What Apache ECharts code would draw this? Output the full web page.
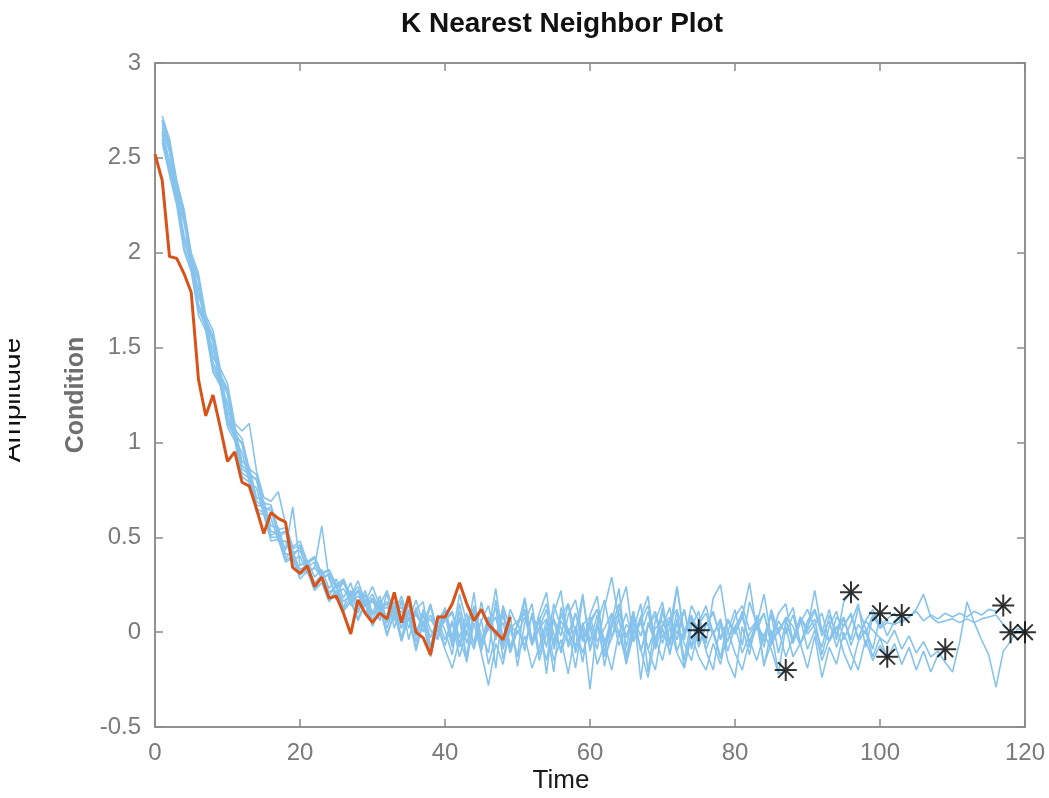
<!DOCTYPE html>
<html>
<head>
<meta charset="utf-8">
<title>K Nearest Neighbor Plot</title>
<script src="https://cdn.jsdelivr.net/npm/echarts@6/dist/echarts.min.js"></script>
<style>
  html, body { margin: 0; padding: 0; background: #fff; }
  #chart { width: 1049px; height: 798px; }
</style>
</head>
<body>
<div id="chart"></div>
<script>
// query trajectory (orange), sampled at t = 0, 1, 2, ...
const queryData = [
  2.52, 2.38, 1.98, 1.97, 1.89, 1.79, 1.33, 1.14, 1.25, 1.08,
  0.90, 0.95, 0.79, 0.77, 0.65, 0.52, 0.63, 0.60, 0.58, 0.34,
  0.31, 0.35, 0.24, 0.29, 0.18, 0.19, 0.10, -0.01, 0.17, 0.10,
  0.05, 0.10, 0.07, 0.21, 0.05, 0.19, 0.00, -0.03, -0.12, 0.08,
  0.08, 0.15, 0.26, 0.15, 0.06, 0.12, 0.04, 0.00, -0.04, 0.08
]

// neighbor trajectories (blue), sampled at t = 1, 2, 3, ... ; last value = end of life
const nn1 = [
  2.70, 2.57, 2.34, 2.20, 1.96, 1.86, 1.63, 1.55, 1.34, 1.25,
  1.03, 1.00, 0.82, 0.81, 0.64, 0.66, 0.50, 0.53, 0.40, 0.45,
  0.32, 0.34, 0.29, 0.30, 0.17, 0.28, 0.14, 0.22, 0.09, 0.18,
  0.06, 0.21, 0.02, 0.17, -0.04, 0.12, 0.16, -0.08, 0.09, 0.01,
  -0.12, 0.15, -0.02, 0.21, -0.10, 0.08, -0.19, 0.14, 0.02, -0.13,
  0.18, -0.06, 0.07, -0.22, 0.10, 0.22, -0.08, 0.03, -0.16, 0.09,
  0.19, -0.11, 0.05, 0.23, -0.13, 0.01, 0.15, -0.21, 0.06, 0.16,
  -0.07, 0.11, -0.15, 0.08, 0.01
]
const nn2 = [
  2.62, 2.46, 2.29, 2.07, 1.94, 1.71, 1.63, 1.40, 1.33, 1.12,
  1.04, 0.86, 0.83, 0.67, 0.66, 0.51, 0.53, 0.39, 0.43, 0.31,
  0.36, 0.24, 0.30, 0.19, 0.25, 0.13, 0.22, 0.10, 0.20, 0.06,
  0.17, 0.02, 0.14, -0.03, 0.12, -0.05, 0.10, -0.11, 0.06, 0.12,
  -0.06, 0.08, -0.16, 0.11, -0.01, -0.11, 0.17, -0.07, 0.09, -0.18,
  0.05, 0.15, -0.12, 0.03, -0.21, 0.13, 0.01, -0.09, 0.19, -0.05,
  0.09, -0.18, 0.03, 0.15, -0.08, 0.11, -0.25, 0.05, -0.05, 0.13,
  -0.12, 0.07, -0.19, 0.03, 0.11, -0.10, -0.20, 0.05, -0.15, -0.24,
  0.03, -0.12, 0.09, -0.18, 0.01, -0.22, -0.20
]
const nn3 = [
  2.72, 2.60, 2.38, 2.23, 2.00, 1.89, 1.67, 1.59, 1.39, 1.31,
  1.10, 1.06, 1.10, 0.85, 0.71, 0.69, 0.74, 0.57, 0.45, 0.48,
  0.37, 0.40, 0.31, 0.33, 0.25, 0.28, 0.19, 0.27, 0.16, 0.24,
  0.14, 0.22, 0.10, 0.19, 0.06, 0.17, 0.04, 0.15, 0.00, 0.13,
  -0.03, 0.20, 0.05, -0.06, 0.16, 0.01, 0.23, -0.04, 0.12, 0.03,
  0.18, -0.05, 0.10, 0.21, -0.07, 0.08, 0.15, 0.00, 0.20, -0.10,
  0.05, 0.17, -0.03, 0.12, 0.24, -0.05, 0.08, 0.19, -0.08, 0.10,
  0.03, 0.24, -0.04, 0.14, 0.06, -0.06, 0.18, 0.25, 0.00, 0.12,
  -0.07, 0.16, 0.04, 0.20, -0.03, 0.10, 0.15, -0.05, 0.08, 0.02,
  0.22, 0.00, 0.12, -0.04, 0.16, 0.21
]
const nn4 = [
  2.64, 2.48, 2.32, 2.09, 1.98, 1.77, 1.67, 1.45, 1.38, 1.16,
  1.09, 0.90, 0.87, 0.71, 0.69, 0.56, 0.55, 0.43, 0.66, 0.35,
  0.38, 0.29, 0.33, 0.23, 0.28, 0.18, 0.26, 0.13, 0.22, 0.10,
  0.19, 0.06, 0.16, 0.02, 0.15, -0.02, 0.12, 0.01, -0.04, 0.09,
  -0.08, 0.07, -0.13, 0.14, -0.09, 0.04, 0.13, -0.14, 0.02, 0.06,
  -0.10, 0.10, 0.00, -0.15, 0.07, -0.02, 0.15, -0.11, 0.03, -0.30,
  0.04, -0.07, 0.09, 0.00, -0.16, 0.07, -0.02, 0.11, -0.09, 0.03,
  0.13, -0.10, 0.01, 0.09, -0.07, 0.05, -0.01, -0.14, 0.07, 0.00,
  0.11, -0.08, 0.03, -0.02, 0.09, -0.11, 0.05, 0.13, -0.06, 0.01,
  0.07, -0.12, 0.03, 0.11, -0.04, 0.05, 0.15, -0.08, 0.08, 0.10
]
const nn5 = [
  2.60, 2.43, 2.27, 2.03, 1.92, 1.70, 1.61, 1.38, 1.32, 1.10,
  1.03, 0.84, 0.81, 0.65, 0.63, 0.50, 0.50, 0.38, 0.40, 0.30,
  0.33, 0.23, 0.28, 0.17, 0.22, 0.12, 0.18, 0.07, 0.16, 0.04,
  0.13, -0.01, 0.10, -0.04, 0.08, -0.10, 0.05, -0.13, 0.03, -0.09,
  -0.19, -0.04, -0.15, 0.05, -0.11, -0.28, -0.06, -0.17, 0.03, -0.13,
  -0.02, -0.19, -0.08, 0.06, -0.15, -0.04, -0.22, 0.01, -0.11, 0.03,
  -0.17, -0.06, -0.20, 0.00, -0.13, 0.05, -0.09, -0.24, -0.03, -0.15,
  0.03, -0.11, -0.19, -0.02, -0.13, -0.20, -0.06, -0.17, 0.01, -0.11,
  -0.20, -0.04, -0.15, -0.01, -0.09, -0.22, 0.03, -0.13, -0.06, -0.19,
  -0.02, -0.24, -0.08, -0.17, 0.00, -0.11, -0.20, -0.04, -0.15, -0.07,
  -0.13
]
const nn6 = [
  2.68, 2.55, 2.32, 2.18, 1.95, 1.85, 1.63, 1.53, 1.34, 1.27,
  1.05, 0.99, 0.84, 0.80, 0.66, 0.64, 0.52, 0.53, 0.42, 0.43,
  0.34, 0.37, 0.28, 0.31, 0.23, 0.26, 0.18, 0.22, 0.14, 0.18,
  0.11, 0.15, 0.06, 0.16, 0.02, 0.13, 0.00, 0.14, -0.03, 0.12,
  -0.04, 0.11, -0.06, 0.10, -0.09, 0.08, -0.02, 0.13, -0.10, 0.05,
  0.12, -0.05, 0.08, -0.08, 0.15, 0.02, -0.06, 0.10, -0.04, 0.05,
  -0.09, 0.13, 0.29, 0.06, -0.03, 0.11, -0.10, 0.03, 0.09, -0.06,
  0.07, -0.04, 0.12, -0.09, 0.05, 0.14, -0.01, 0.07, -0.10, 0.03,
  0.09, -0.05, 0.05, -0.08, 0.12, 0.00, 0.07, -0.06, 0.05, 0.12,
  0.02, -0.08, 0.09, -0.01, 0.07, -0.04, 0.13, 0.02, -0.09, 0.08,
  -0.02, 0.06, 0.09
]
const nn7 = [
  2.58, 2.41, 2.25, 2.01, 1.90, 1.67, 1.59, 1.37, 1.30, 1.08,
  1.01, 0.82, 0.79, 0.63, 0.62, 0.48, 0.49, 0.37, 0.39, 0.28,
  0.32, 0.22, 0.26, 0.16, 0.21, 0.11, 0.16, 0.06, 0.15, 0.03,
  0.13, -0.02, 0.10, -0.05, 0.08, -0.08, 0.06, -0.12, 0.04, -0.07,
  0.05, -0.13, 0.01, -0.09, 0.07, -0.17, -0.02, 0.05, -0.11, 0.01,
  -0.07, 0.09, -0.15, -0.01, 0.07, -0.11, 0.02, -0.19, 0.05, -0.08,
  0.03, -0.13, -0.03, 0.07, -0.17, -0.01, 0.05, -0.09, -0.20, 0.02,
  -0.11, 0.05, -0.06, -0.15, 0.03, -0.09, 0.01, -0.13, -0.04, 0.03,
  -0.11, -0.01, 0.05, -0.17, -0.06, 0.01, -0.13, -0.03, 0.07, -0.09,
  0.01, -0.15, -0.04, 0.03, -0.11, -0.20, -0.05, 0.01, -0.13, -0.03,
  -0.14, -0.06, -0.17, -0.08, -0.20, -0.10, -0.21, -0.12, -0.09
]
const nn8 = [
  2.66, 2.53, 2.29, 2.16, 1.94, 1.81, 1.59, 1.50, 1.30, 1.21,
  1.01, 0.95, 0.79, 0.76, 0.62, 0.60, 0.48, 0.48, 0.38, 0.40,
  0.31, 0.34, 0.56, 0.28, 0.20, 0.23, 0.16, 0.19, 0.15, 0.16,
  0.12, 0.13, 0.09, 0.11, 0.06, 0.09, 0.03, 0.07, 0.00, 0.06,
  0.10, -0.06, 0.06, 0.13, -0.05, 0.08, -0.03, 0.12, -0.08, 0.04,
  0.10, -0.06, 0.02, 0.12, -0.09, 0.06, -0.01, 0.10, -0.05, 0.04,
  0.12, -0.07, 0.04, -0.01, 0.10, -0.05, 0.06, 0.14, -0.03, 0.04,
  0.08, -0.01, 0.12, -0.07, 0.04, 0.10, -0.01, 0.06, -0.05, 0.08,
  0.14, 0.01, 0.06, -0.05, 0.10, -0.01, 0.08, 0.03, -0.07, 0.06,
  0.12, 0.01, -0.05, 0.08, 0.03, 0.10, -0.03, 0.06, 0.12, 0.03,
  0.07, 0.10, 0.05, 0.08, 0.11, 0.06, 0.09, 0.07, 0.10, 0.08,
  0.10, 0.08, 0.11, 0.09, 0.12, 0.11, 0.14
]
const nn9 = [
  2.63, 2.47, 2.30, 2.06, 1.95, 1.73, 1.63, 1.42, 1.34, 1.14,
  1.05, 0.88, 0.84, 0.69, 0.66, 0.53, 0.52, 0.41, 0.42, 0.33,
  0.35, 0.26, 0.30, 0.21, 0.24, 0.16, 0.20, 0.12, 0.17, 0.09,
  0.14, 0.05, 0.13, 0.02, 0.10, 0.00, 0.09, -0.03, 0.07, -0.04,
  0.06, -0.08, 0.04, 0.10, -0.06, 0.02, 0.08, -0.09, 0.04, -0.01,
  0.08, -0.07, 0.02, 0.07, -0.05, 0.10, -0.01, -0.07, 0.04, 0.08,
  -0.05, 0.02, 0.10, -0.07, 0.04, -0.01, 0.08, -0.09, 0.02, 0.06,
  -0.05, 0.24, -0.01, 0.08, -0.07, 0.04, 0.10, -0.03, 0.06, -0.01,
  0.08, -0.05, 0.04, 0.10, -0.07, 0.02, 0.06, -0.05, 0.08, -0.01,
  0.04, 0.10, -0.05, 0.02, 0.08, -0.07, 0.04, -0.01, 0.09, 0.02,
  0.05, 0.04, 0.06, 0.08, 0.12, 0.20, 0.08, 0.05, 0.06, 0.07,
  0.05, 0.07, 0.05, 0.07, 0.08, 0.09, 0.04, 0.00
]
const nn10 = [
  2.70, 2.58, 2.36, 2.21, 1.98, 1.87, 1.65, 1.56, 1.36, 1.28,
  1.07, 1.02, 0.86, 0.83, 0.68, 0.67, 0.54, 0.55, 0.44, 0.46,
  0.36, 0.39, 0.30, 0.33, 0.24, 0.27, 0.19, 0.24, 0.15, 0.20,
  0.12, 0.16, 0.10, 0.13, 0.06, 0.10, 0.03, 0.09, 0.01, 0.07,
  0.11, -0.03, 0.10, -0.07, 0.06, 0.14, -0.04, 0.09, -0.08, 0.04,
  0.12, -0.05, 0.06, 0.15, -0.01, -0.09, 0.09, 0.17, -0.03, 0.06,
  0.12, -0.05, 0.04, 0.10, -0.02, 0.08, -0.10, 0.04, 0.11, -0.03,
  0.06, 0.12, -0.01, 0.08, -0.08, 0.04, 0.11, -0.04, 0.06, 0.00,
  0.08, 0.26, 0.01, 0.10, -0.05, 0.06, -0.01, 0.09, -0.06, 0.03,
  0.11, -0.02, 0.06, -0.08, 0.04, 0.09, -0.04, 0.06, 0.01, -0.03,
  -0.06, 0.01, -0.09, -0.02, -0.11, -0.05, -0.13, -0.10, -0.16, -0.21,
  -0.05, 0.16, 0.05, -0.04, -0.12, -0.29, -0.10, -0.05, 0.02, 0.00
]

const neighbors = [nn1, nn2, nn3, nn4, nn5, nn6, nn7, nn8, nn9, nn10]

const xTicks = [0, 20, 40, 60, 80, 100, 120]
const yTicks = [-0.5, 0, 0.5, 1, 1.5, 2, 2.5, 3]

const boxColor = '#8a8a8a'
const labelColor = '#7a7a7a'
const font = 'Arial, "Liberation Sans", Helvetica, sans-serif'

const chart = echarts.init(document.getElementById('chart'))

const neighborSeries = neighbors.map((d, k) => ({
  name: 'neighbor ' + (k + 1),
  type: 'line',
  xAxisIndex: 0,
  yAxisIndex: 0,
  showSymbol: false,
  symbol: 'none',
  silent: true,
  lineStyle: { color: '#86c3ec', width: 1.6 },
  data: d.map((v, i) => [i + 1, v]),
  z: 2
}))

// end-of-life points = last sample of each neighbor
const endPoints = neighbors.map(d => [d.length, d[d.length - 1]])

const asterisk = 'path://M10 0 L10 20 M0 10 L20 10 M2.9 2.9 L17.1 17.1 M2.9 17.1 L17.1 2.9'

chart.setOption({
  animation: false,
  title: {
    text: 'K Nearest Neighbor Plot',
    left: 557,
    top: 5,
    textAlign: 'center',
    textStyle: { fontFamily: font, fontSize: 28, fontWeight: 'bold', color: '#111' }
  },
  grid: {
    left: 155,
    right: 24,
    top: 63,
    bottom: 71,
    show: true,
    borderColor: boxColor,
    borderWidth: 1.5,
    backgroundColor: '#fff'
  },
  xAxis: [
    {
      type: 'value',
      min: xTicks[0],
      max: xTicks[xTicks.length - 1],
      interval: 20,
      axisLine: { show: true, onZero: false, lineStyle: { color: boxColor, width: 1.5 } },
      axisTick: { show: true, inside: true, length: 8, lineStyle: { color: boxColor, width: 1.5 } },
      axisLabel: { color: labelColor, fontSize: 24, fontFamily: font, margin: 14 },
      splitLine: { show: false }
    },
    {
      type: 'value',
      position: 'top',
      min: xTicks[0],
      max: xTicks[xTicks.length - 1],
      interval: 20,
      axisLine: { show: true, onZero: false, lineStyle: { color: boxColor, width: 1.5 } },
      axisTick: { show: true, inside: true, length: 8, lineStyle: { color: boxColor, width: 1.5 } },
      axisLabel: { show: false },
      splitLine: { show: false }
    }
  ],
  yAxis: [
    {
      type: 'value',
      min: yTicks[0],
      max: yTicks[yTicks.length - 1],
      interval: 0.5,
      name: 'Condition',
      nameLocation: 'middle',
      nameGap: 62,
      nameTextStyle: { color: '#6e6e6e', fontSize: 25, fontWeight: 'bold', fontFamily: font },
      axisLine: { show: true, onZero: false, lineStyle: { color: boxColor, width: 1.5 } },
      axisTick: { show: true, inside: true, length: 8, lineStyle: { color: boxColor, width: 1.5 } },
      axisLabel: { color: labelColor, fontSize: 24, fontFamily: font, margin: 14 },
      splitLine: { show: false }
    },
    {
      type: 'value',
      position: 'right',
      min: yTicks[0],
      max: yTicks[yTicks.length - 1],
      interval: 0.5,
      axisLine: { show: true, onZero: false, lineStyle: { color: boxColor, width: 1.5 } },
      axisTick: { show: true, inside: true, length: 8, lineStyle: { color: boxColor, width: 1.5 } },
      axisLabel: { show: false },
      splitLine: { show: false }
    }
  ],
  graphic: [
    {
      type: 'text',
      x: 561,
      y: 781,
      style: {
        text: 'Time',
        fill: '#1a1a1a',
        font: '26px ' + font,
        textAlign: 'center',
        textVerticalAlign: 'middle'
      }
    },
    {
      type: 'text',
      x: 12,
      y: 400,
      rotation: Math.PI / 2,
      z: 1,
      style: {
        text: 'Amplitude',
        fill: '#111',
        font: '28px ' + font,
        textAlign: 'center',
        textVerticalAlign: 'middle'
      }
    },
    {
      type: 'rect',
      z: 10,
      shape: { x: 0, y: 320, width: 9, height: 160 },
      style: { fill: '#fff' }
    }
  ],
  series: [
    ...neighborSeries,
    {
      name: 'query',
      type: 'line',
      xAxisIndex: 0,
      yAxisIndex: 0,
      showSymbol: false,
      symbol: 'none',
      silent: true,
      lineStyle: { color: '#d95319', width: 3 },
      data: queryData.map((v, i) => [i, v]),
      z: 3
    },
    {
      name: 'end of life',
      type: 'scatter',
      xAxisIndex: 0,
      yAxisIndex: 0,
      symbol: asterisk,
      symbolSize: 22,
      itemStyle: { color: 'rgba(0,0,0,0)', borderColor: '#000', borderWidth: 2 },
      data: endPoints,
      z: 4
    }
  ]
})
</script>
</body>
</html>
